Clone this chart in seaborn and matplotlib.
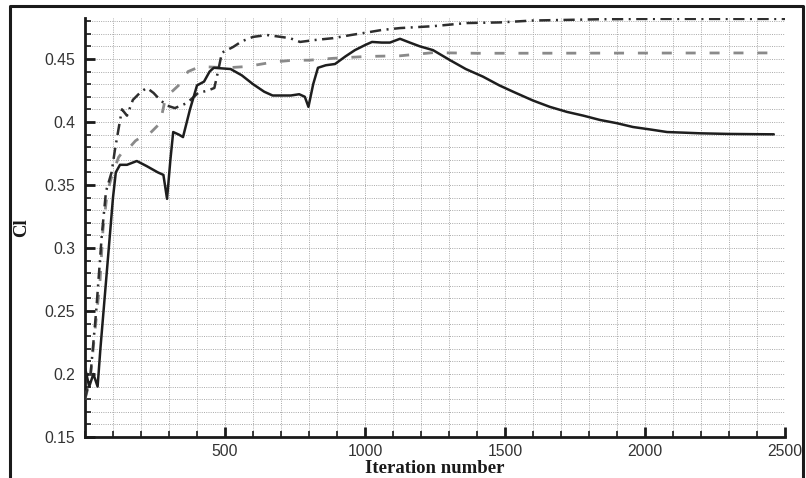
import matplotlib
matplotlib.use("Agg")
import matplotlib.pyplot as plt
from matplotlib.lines import Line2D
from matplotlib.ticker import MultipleLocator, FixedLocator
import seaborn as sns
import pandas as pd

# ---- data ----
solid_x = [0, 15, 30, 45, 55, 70, 85, 100, 110, 125, 150, 185, 220, 260, 280, 293,
           305, 315, 335, 350, 375, 400, 425, 445, 460, 520, 560, 600, 640, 670, 735,
           765, 785, 798, 815, 832, 860, 893, 930, 964, 1000, 1025, 1060, 1089, 1125,
           1160, 1196, 1243, 1304, 1360, 1421, 1480, 1529, 1600, 1660, 1721, 1780,
           1839, 1900, 1957, 2020, 2079, 2140, 2196, 2300, 2400, 2460]
solid_y = [0.205, 0.19, 0.20, 0.19, 0.22, 0.26, 0.30, 0.34, 0.36, 0.366, 0.366, 0.369,
           0.365, 0.360, 0.358, 0.339, 0.370, 0.392, 0.390, 0.388, 0.410, 0.429, 0.432,
           0.440, 0.443, 0.442, 0.437, 0.430, 0.424, 0.421, 0.421, 0.422, 0.420, 0.412,
           0.430, 0.443, 0.445, 0.446, 0.452, 0.457, 0.461, 0.4635, 0.463, 0.463, 0.466,
           0.463, 0.460, 0.457, 0.449, 0.442, 0.436, 0.429, 0.424, 0.417, 0.412, 0.408,
           0.405, 0.4016, 0.399, 0.396, 0.394, 0.392, 0.3915, 0.391, 0.3905, 0.3903,
           0.3902]

dashed_x = [0, 18, 36, 54, 64, 80, 100, 120, 140, 160, 180, 200, 232, 268, 286, 310,
            339, 368, 411, 507, 579, 671, 743, 800, 886, 1007, 1125, 1243, 1400, 2475]
dashed_y = [0.18, 0.195, 0.235, 0.275, 0.314, 0.345, 0.36, 0.372, 0.378, 0.38, 0.385,
            0.388, 0.391, 0.399, 0.4175, 0.424, 0.43, 0.44, 0.444, 0.443, 0.444, 0.4475,
            0.449, 0.449, 0.4505, 0.452, 0.4525, 0.455, 0.4545, 0.4548]

dashdot_x = [0, 20, 40, 60, 75, 95, 107, 121, 132, 150, 171, 200, 221, 245, 268, 293,
             321, 364, 404, 440, 462, 475, 489, 529, 560, 600, 650, 700, 732, 768, 820,
             886, 950, 1007, 1060, 1125, 1243, 1364, 1482, 1600, 1721, 1839, 2000, 2500]
dashdot_y = [0.18, 0.20, 0.25, 0.31, 0.345, 0.36, 0.378, 0.396, 0.41, 0.405, 0.4175,
             0.424, 0.427, 0.423, 0.4175, 0.413, 0.411, 0.415, 0.423, 0.425, 0.427, 0.44,
             0.455, 0.4595, 0.464, 0.4675, 0.469, 0.4675, 0.4665, 0.4635, 0.465, 0.4665,
             0.469, 0.471, 0.473, 0.4745, 0.476, 0.4785, 0.479, 0.4805, 0.481, 0.4815,
             0.4818, 0.4818]

x_major = [500, 1000, 1500, 2000, 2500]
x_labels = ["500", "1000", "1500", "2000", "2500"]
y_major = [0.15, 0.2, 0.25, 0.3, 0.35, 0.4, 0.45]
y_labels = ["0.15", "0.2", "0.25", "0.3", "0.35", "0.4", "0.45"]

# ---- figure ----
sns.set_style("white")
plt.rcParams["font.family"] = ["Liberation Sans", "DejaVu Sans"]

fig = plt.figure(figsize=(8.06, 4.78), dpi=100)
ax = fig.add_axes([85 / 806, (478 - 437) / 478, 700 / 806, (437 - 18) / 478])

df_s = pd.DataFrame({"x": solid_x, "y": solid_y})
df_d = pd.DataFrame({"x": dashed_x, "y": dashed_y})
df_dd = pd.DataFrame({"x": dashdot_x, "y": dashdot_y})

sns.lineplot(data=df_d, x="x", y="y", ax=ax, color="#8a8a8a", linewidth=2.0, zorder=3)
sns.lineplot(data=df_dd, x="x", y="y", ax=ax, color="#2e2e2e", linewidth=1.8, zorder=4)
sns.lineplot(data=df_s, x="x", y="y", ax=ax, color="#1e1e1e", linewidth=1.8, zorder=5)

ax.lines[0].set_dashes([3.6, 5.0])
ax.lines[1].set_dashes([4.5, 2.2, 0.8, 2.2])

ax.set_xlim(0, 2500)
ax.set_ylim(0.15, 0.4825)

ax.xaxis.set_major_locator(FixedLocator(x_major))
ax.set_xticklabels(x_labels)
ax.xaxis.set_minor_locator(MultipleLocator(100))
ax.yaxis.set_major_locator(FixedLocator(y_major))
ax.set_yticklabels(y_labels)
ax.yaxis.set_minor_locator(MultipleLocator(0.01))

ax.grid(True, which="both", color="#a8a8a8", linestyle=(0, (1, 1.3)), linewidth=0.7)
ax.set_axisbelow(True)

for s in ["top", "right"]:
    ax.spines[s].set_visible(False)
for s in ["left", "bottom"]:
    ax.spines[s].set_visible(True)
    ax.spines[s].set_color("#1a1a1a")
    ax.spines[s].set_linewidth(2.0)

ax.tick_params(which="major", direction="in", length=7, width=2.0, color="#1a1a1a",
               labelsize=11.3, labelcolor="#333333", pad=7)
ax.tick_params(axis="x", which="major", pad=5)
ax.tick_params(which="minor", direction="in", length=4, width=1.2, color="#1a1a1a")
ax.tick_params(axis="x", which="both", bottom=True)
ax.tick_params(axis="y", which="both", left=True)

ax.set_xlabel("Iteration number", fontsize=13.5, fontweight="bold",
              family=["Liberation Serif", "DejaVu Serif"], color="#1a1a1a")
ax.set_ylabel("Cl", fontsize=13.5, fontweight="bold",
              family=["Liberation Serif", "DejaVu Serif"], color="#1a1a1a")
ax.xaxis.set_label_coords(0.5, -0.056)
ax.yaxis.set_label_coords(-0.079, 0.5)

# outer frame
fx0, fx1, fy1 = 9.5 / 806, 802.5 / 806, 1 - 5.5 / 478
fig.add_artist(Line2D([fx0, fx0, fx1, fx1], [-0.02, fy1, fy1, -0.02],
                      transform=fig.transFigure, color="#1a1a1a", linewidth=2.2))

fig.savefig("out.png", dpi=100)
